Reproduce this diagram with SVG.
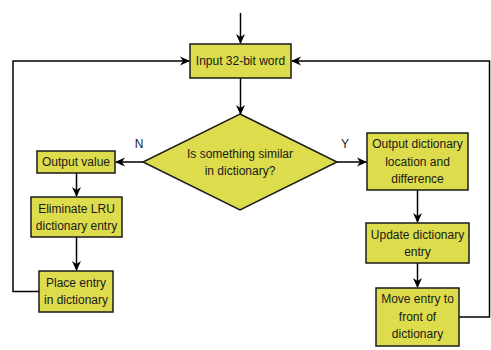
<svg xmlns="http://www.w3.org/2000/svg" width="491" height="350" viewBox="0 0 491 350">
<style>
.n{fill:#dcdc4c;stroke:#1a1a1a;stroke-width:1.5}
.t{font-family:"Liberation Sans",Arial,sans-serif;font-size:12px;fill:#1a1a1a;text-anchor:middle}
.c{fill:none;stroke:#000;stroke-width:1.5}
</style>
<defs>
<marker id="a" viewBox="0 0 10 10" refX="9" refY="5" markerWidth="10" markerHeight="10" markerUnits="userSpaceOnUse" orient="auto">
<path d="M0,0.5 L10,5 L0,9.5 L3,5 Z" fill="#000"/>
</marker>
</defs>
<rect width="491" height="350" fill="#fff"/>
<g id="connectors">
<path class="c" d="M240.5,13 V43" marker-end="url(#a)"/>
<path class="c" d="M240.5,78 V114" marker-end="url(#a)"/>
<path class="c" d="M143,162 H116" marker-end="url(#a)"/>
<path class="c" d="M337,162 H366" marker-end="url(#a)"/>
<path class="c" d="M76.5,173 V196" marker-end="url(#a)"/>
<path class="c" d="M76.5,237 V270" marker-end="url(#a)"/>
<path class="c" d="M39,291.5 H13 V61 H189" marker-end="url(#a)"/>
<path class="c" d="M417.5,190 V222" marker-end="url(#a)"/>
<path class="c" d="M417.5,263 V287" marker-end="url(#a)"/>
<path class="c" d="M459,317 H489.5 V61 H292" marker-end="url(#a)"/>
<text class="t" x="139" y="148">N</text>
<text class="t" x="345" y="148">Y</text>
</g>
<g id="input"><rect class="n" x="190" y="44" width="101" height="34"/><text class="t" x="240.5" y="65">Input 32-bit word</text></g>
<g id="decision"><path class="n" d="M240,114 L337,162 L240,210 L143,162 Z"/><text class="t" x="240" y="157.5">Is something similar</text><text class="t" x="240" y="174.5">in dictionary?</text></g>
<g id="outval"><rect class="n" x="37" y="151" width="78" height="22"/><text class="t" x="76" y="166">Output value</text></g>
<g id="elim"><rect class="n" x="31" y="197" width="91" height="40"/><text class="t" x="76.5" y="212.5">Eliminate LRU</text><text class="t" x="76.5" y="229.5">dictionary entry</text></g>
<g id="place"><rect class="n" x="39" y="271" width="74" height="41"/><text class="t" x="76" y="286.5">Place entry</text><text class="t" x="76" y="304">in dictionary</text></g>
<g id="outdict"><rect class="n" x="367" y="133" width="101" height="57"/><text class="t" x="417.5" y="148">Output dictionary</text><text class="t" x="417.5" y="165.5">location and</text><text class="t" x="417.5" y="183">difference</text></g>
<g id="update"><rect class="n" x="366" y="223" width="103" height="40"/><text class="t" x="417.5" y="238.5">Update dictionary</text><text class="t" x="417.5" y="256">entry</text></g>
<g id="move"><rect class="n" x="376" y="288" width="83" height="58"/><text class="t" x="417.5" y="303">Move entry to</text><text class="t" x="417.5" y="320.5">front of</text><text class="t" x="417.5" y="338">dictionary</text></g>
</svg>
